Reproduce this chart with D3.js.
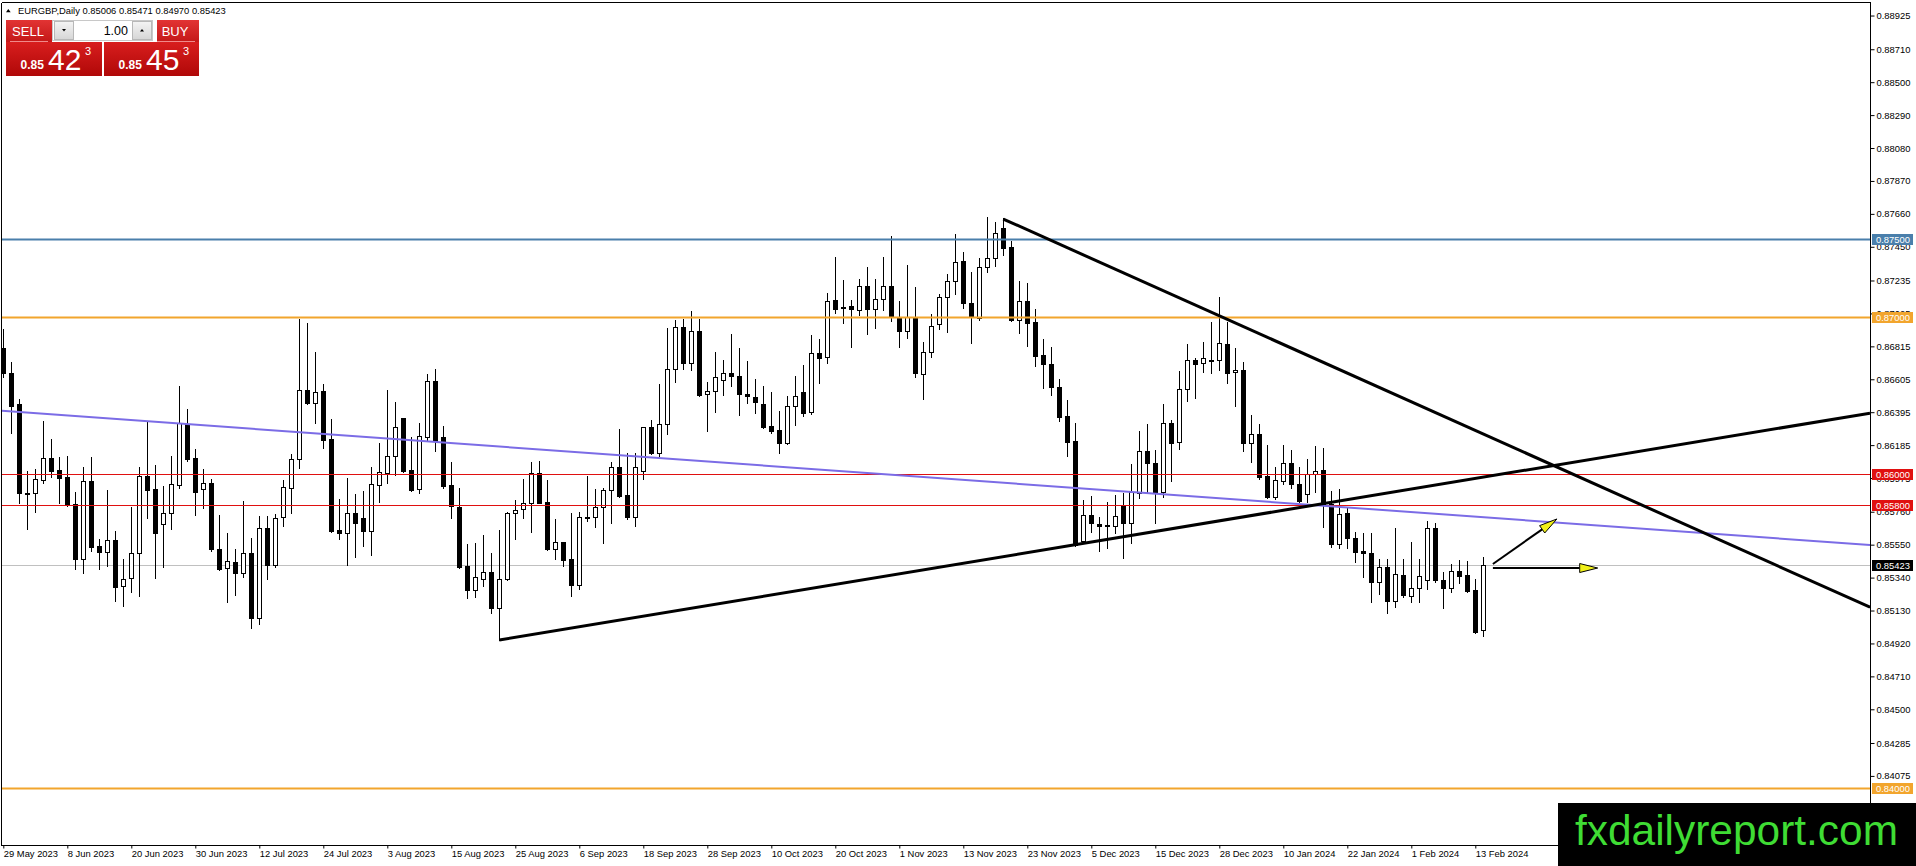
<!DOCTYPE html>
<html>
<head>
<meta charset="utf-8">
<title>EURGBP Daily</title>
<script src="https://d3js.org/d3.v7.min.js"></script>
<style>
  body { margin: 0; background: #fff; overflow: hidden; }
  text { font-family: "Liberation Sans", Arial, sans-serif; }
</style>
</head>
<body>
<div id="chart"></div>
<script>
// daily candles, 29 May 2023 .. 14 Feb 2024
var opens = [
 0.86802,0.86643,0.86445,0.85877,0.85877,0.85960,0.86100,0.86024,0.85981,0.85807,
 0.85456,0.85954,0.85541,0.85501,0.85580,0.85284,0.85335,0.85495,0.85990,0.85905,
 0.85680,0.85750,0.85928,0.86319,0.86103,0.85903,0.85943,0.85522,0.85399,0.85440,
 0.85367,0.85495,0.85080,0.85654,0.85420,0.85728,0.85909,0.86094,0.86536,0.86451,
 0.86530,0.86224,0.85643,0.85622,0.85750,0.85718,0.85639,0.85928,0.86009,0.86115,
 0.86358,0.86026,0.85903,0.86239,0.86594,0.86237,0.85930,0.85792,0.85414,0.85261,
 0.85333,0.85376,0.85146,0.85329,0.85750,0.85775,0.85814,0.86005,0.85822,0.85520,
 0.85565,0.85456,0.85293,0.85724,0.85724,0.85788,0.85899,0.86043,0.85867,0.85724,
 0.86022,0.86298,0.86132,0.86317,0.86668,0.86936,0.86706,0.86913,0.86511,0.86532,
 0.86600,0.86643,0.86626,0.86509,0.86490,0.86447,0.86307,0.86281,0.86200,0.86434,
 0.86521,0.86394,0.86770,0.86745,0.87110,0.87068,0.87072,0.87047,0.87202,0.87051,
 0.87115,0.87202,0.87004,0.86915,0.87004,0.86636,0.86781,0.86955,0.87127,0.87234,
 0.87359,0.87089,0.86993,0.87319,0.87376,0.87567,0.87446,0.86983,0.87104,0.86968,
 0.86760,0.86702,0.86553,0.86370,0.86211,0.85575,0.85739,0.85682,0.85673,0.85671,
 0.85801,0.85690,0.85877,0.86147,0.86073,0.85888,0.86324,0.86202,0.86541,0.86728,
 0.86706,0.86725,0.86728,0.86830,0.86649,0.86664,0.86196,0.86256,0.85988,0.85856,
 0.85958,0.86071,0.85937,0.85873,0.86000,0.86024,0.85809,0.85552,0.85750,0.85590,
 0.85510,0.85495,0.85310,0.85405,0.85193,0.85356,0.85225,0.85271,0.85325,0.85654,
 0.85325,0.85271,0.85382,0.85356,0.85261,0.85006];
var highs = [
 0.86923,0.86713,0.86479,0.86020,0.86030,0.86339,0.86224,0.86109,0.86115,0.85884,
 0.86043,0.86107,0.85586,0.85899,0.85637,0.85461,0.85792,0.86045,0.86334,0.86058,
 0.85924,0.86115,0.86562,0.86415,0.86160,0.86032,0.85969,0.85739,0.85626,0.85522,
 0.85826,0.85590,0.85733,0.85733,0.85743,0.85962,0.86128,0.86989,0.86962,0.86777,
 0.86572,0.86351,0.85841,0.85973,0.85873,0.85892,0.86043,0.86200,0.86536,0.86460,
 0.86360,0.86237,0.86324,0.86638,0.86670,0.86307,0.86075,0.85909,0.85554,0.85558,
 0.85612,0.85495,0.85643,0.85760,0.85835,0.85969,0.86079,0.86084,0.85962,0.85714,
 0.85569,0.85750,0.85756,0.85990,0.85903,0.85909,0.86079,0.86288,0.86132,0.86132,
 0.86303,0.86345,0.86575,0.86930,0.86983,0.86987,0.87040,0.86987,0.86585,0.86781,
 0.86728,0.86894,0.86802,0.86723,0.86606,0.86562,0.86521,0.86402,0.86498,0.86626,
 0.86696,0.86887,0.86862,0.87153,0.87382,0.87238,0.87110,0.87244,0.87319,0.87244,
 0.87382,0.87519,0.87104,0.87334,0.87191,0.86845,0.87019,0.87149,0.87276,0.87531,
 0.87414,0.87291,0.87376,0.87642,0.87610,0.87631,0.87489,0.87232,0.87217,0.87053,
 0.86862,0.86813,0.86604,0.86473,0.86328,0.85835,0.85862,0.85728,0.85824,0.85867,
 0.85877,0.86062,0.86277,0.86319,0.86154,0.86447,0.86345,0.86660,0.86830,0.86743,
 0.86840,0.86968,0.87127,0.86972,0.86802,0.86713,0.86377,0.86320,0.86186,0.86047,
 0.86186,0.86154,0.86043,0.86096,0.86179,0.86164,0.85894,0.85903,0.85792,0.85629,
 0.85622,0.85622,0.85456,0.85456,0.85654,0.85456,0.85565,0.85456,0.85701,0.85686,
 0.85378,0.85427,0.85452,0.85446,0.85331,0.85471];
var lows = [
 0.86621,0.86260,0.85813,0.85650,0.85760,0.85941,0.85979,0.85818,0.85799,0.85393,
 0.85367,0.85512,0.85393,0.85416,0.85193,0.85161,0.85250,0.85225,0.85722,0.85335,
 0.85410,0.85650,0.85913,0.86086,0.85739,0.85786,0.85512,0.85388,0.85186,0.85231,
 0.85346,0.85016,0.85044,0.85329,0.85410,0.85671,0.85750,0.86041,0.86448,0.86324,
 0.86169,0.85633,0.85586,0.85420,0.85473,0.85543,0.85484,0.85824,0.85941,0.85994,
 0.86015,0.85894,0.85877,0.86217,0.86149,0.85909,0.85722,0.85403,0.85212,0.85218,
 0.85288,0.85116,0.84942,0.85325,0.85584,0.85722,0.85633,0.85814,0.85516,0.85456,
 0.85414,0.85223,0.85265,0.85701,0.85665,0.85558,0.85686,0.85856,0.85711,0.85671,
 0.85967,0.86128,0.86117,0.86254,0.86585,0.86668,0.86664,0.86498,0.86277,0.86398,
 0.86504,0.86562,0.86377,0.86451,0.86388,0.86292,0.86260,0.86137,0.86190,0.86313,
 0.86373,0.86381,0.86583,0.86711,0.87025,0.86962,0.86808,0.87015,0.86891,0.86934,
 0.87047,0.86979,0.86808,0.86866,0.86621,0.86477,0.86749,0.86925,0.86904,0.87149,
 0.87061,0.86838,0.86983,0.87291,0.87327,0.87397,0.86979,0.86898,0.86819,0.86692,
 0.86551,0.86504,0.86341,0.86118,0.85543,0.85569,0.85629,0.85512,0.85526,0.85622,
 0.85467,0.85558,0.85845,0.85877,0.85690,0.85856,0.85958,0.86158,0.86466,0.86487,
 0.86653,0.86647,0.86664,0.86583,0.86436,0.86149,0.86079,0.85967,0.85845,0.85841,
 0.85937,0.85909,0.85824,0.85824,0.85886,0.85660,0.85537,0.85527,0.85531,0.85441,
 0.85342,0.85186,0.85235,0.85112,0.85150,0.85214,0.85186,0.85186,0.85265,0.85314,
 0.85144,0.85250,0.85303,0.85250,0.84984,0.84970];
var closes = [
 0.86643,0.86434,0.85877,0.85880,0.85967,0.86100,0.86022,0.85973,0.85805,0.85456,
 0.85954,0.85537,0.85505,0.85580,0.85282,0.85329,0.85495,0.85990,0.85901,0.85626,
 0.85750,0.85937,0.86324,0.86096,0.85888,0.85943,0.85522,0.85393,0.85444,0.85367,
 0.85495,0.85080,0.85654,0.85420,0.85718,0.85916,0.86094,0.86536,0.86451,0.86521,
 0.86217,0.85639,0.85622,0.85750,0.85690,0.85639,0.85937,0.86011,0.86115,0.86300,
 0.86020,0.85899,0.86241,0.86594,0.86213,0.85926,0.85794,0.85410,0.85261,0.85342,
 0.85376,0.85144,0.85331,0.85750,0.85771,0.85814,0.86005,0.85818,0.85520,0.85565,
 0.85452,0.85293,0.85724,0.85727,0.85788,0.85899,0.86043,0.85862,0.85728,0.86043,
 0.86298,0.86132,0.86317,0.86668,0.86936,0.86706,0.86915,0.86504,0.86532,0.86617,
 0.86643,0.86628,0.86509,0.86498,0.86462,0.86298,0.86277,0.86200,0.86434,0.86498,
 0.86392,0.86770,0.86738,0.87106,0.87051,0.87064,0.87051,0.87202,0.87051,0.87115,
 0.87202,0.87004,0.86915,0.87004,0.86647,0.86781,0.86947,0.87127,0.87234,0.87351,
 0.87089,0.87000,0.87319,0.87376,0.87536,0.87440,0.86983,0.87104,0.86962,0.86755,
 0.86700,0.86553,0.86366,0.86207,0.85548,0.85739,0.85686,0.85669,0.85671,0.85733,
 0.85690,0.85884,0.86147,0.86069,0.85888,0.86324,0.86200,0.86541,0.86728,0.86702,
 0.86738,0.86730,0.86834,0.86647,0.86664,0.86196,0.86256,0.85984,0.85852,0.85962,
 0.86069,0.85935,0.85831,0.85998,0.86022,0.85809,0.85552,0.85743,0.85590,0.85505,
 0.85495,0.85310,0.85405,0.85193,0.85361,0.85229,0.85271,0.85350,0.85654,0.85325,
 0.85271,0.85382,0.85352,0.85256,0.84995,0.85423];

// one date label every 8 bars
var dateLabels = ["29 May 2023","8 Jun 2023","20 Jun 2023","30 Jun 2023","12 Jul 2023",
 "24 Jul 2023","3 Aug 2023","15 Aug 2023","25 Aug 2023","6 Sep 2023","18 Sep 2023",
 "28 Sep 2023","10 Oct 2023","20 Oct 2023","1 Nov 2023","13 Nov 2023","23 Nov 2023",
 "5 Dec 2023","15 Dec 2023","28 Dec 2023","10 Jan 2024","22 Jan 2024","1 Feb 2024",
 "13 Feb 2024"];
var priceTicks = [0.88925,0.88710,0.88500,0.88290,0.88080,0.87870,0.87660,0.87450,
 0.87235,0.87025,0.86815,0.86605,0.86395,0.86185,0.85975,0.85760,0.85550,0.85340,
 0.85130,0.84920,0.84710,0.84500,0.84285,0.84075];

// horizontal levels
var levelPrices = [0.87500, 0.87000, 0.86000, 0.85800, 0.84000];
var levelColors = ["#4a7fab", "#f2a52d", "#e01010", "#e01010", "#f2a52d"];
var levelWidths = [2, 2, 1, 1, 2];
var bid = 0.85423, ask = 0.85453;

// trend lines as [bar, price] anchor pairs, extended to the right edge
var supportLine = [[62, 0.84942], [134, 0.85550]];
var resistLine = [[125, 0.87627], [187, 0.86210]];
var channelLine = [[0, 0.86403], [185, 0.85725]];
// arrows [bar, price] -> [bar, price]
var arrowUp = [[186.2, 0.85427], [194.2, 0.85714]];
var arrowFlat = [[186.2, 0.85401], [199.3, 0.85401]];

var W = 1916, H = 866;
var LEFT = 2, RIGHT = 1870, TOP = 3, BOTTOM = 846;
var n = opens.length;

var x = d3.scaleLinear().domain([0, n - 1]).range([3.3, 3.3 + 8 * (n - 1)]);
var y = d3.scaleLinear().domain([0.83628, 0.89005]).range([BOTTOM, TOP]);
var lastBar = x.invert(RIGHT);

var svg = d3.select("#chart").append("svg")
  .attr("width", W).attr("height", H)
  .style("display", "block").style("background", "#fff");

var defs = svg.append("defs");
defs.append("clipPath").attr("id", "plot")
  .append("rect").attr("x", LEFT).attr("y", TOP)
  .attr("width", RIGHT - LEFT).attr("height", BOTTOM - TOP);
var g1 = defs.append("linearGradient").attr("id", "redTop")
  .attr("x1", 0).attr("y1", 0).attr("x2", 0).attr("y2", 1);
g1.append("stop").attr("offset", "0%").attr("stop-color", "#e23434");
g1.append("stop").attr("offset", "100%").attr("stop-color", "#c41818");
var g2 = defs.append("linearGradient").attr("id", "redPrice")
  .attr("x1", 0).attr("y1", 0).attr("x2", 0).attr("y2", 1);
g2.append("stop").attr("offset", "0%").attr("stop-color", "#d81e1e");
g2.append("stop").attr("offset", "100%").attr("stop-color", "#b00808");
var g3 = defs.append("linearGradient").attr("id", "btnGray")
  .attr("x1", 0).attr("y1", 0).attr("x2", 0).attr("y2", 1);
g3.append("stop").attr("offset", "0%").attr("stop-color", "#f4f4f4");
g3.append("stop").attr("offset", "100%").attr("stop-color", "#d6d6d6");

var plot = svg.append("g").attr("clip-path", "url(#plot)");

// last price line sits behind the candles
plot.append("line")
  .attr("x1", LEFT).attr("x2", RIGHT)
  .attr("y1", Math.round(y(bid)) + 0.5).attr("y2", Math.round(y(bid)) + 0.5)
  .attr("stroke", "#c0c0c0").attr("stroke-width", 1);

// candles
var idx = d3.range(n);
var cx = function(i) { return Math.round(x(i)); };
plot.append("g").selectAll("line").data(idx).enter().append("line")
  .attr("x1", function(i) { return cx(i) + 0.5; })
  .attr("x2", function(i) { return cx(i) + 0.5; })
  .attr("y1", function(i) { return Math.round(y(highs[i])); })
  .attr("y2", function(i) { return Math.round(y(lows[i])) + 1; })
  .attr("stroke", "#000").attr("stroke-width", 1);

plot.append("g").selectAll("rect").data(idx).enter().append("rect")
  .each(function(i) {
    var top = Math.round(y(Math.max(opens[i], closes[i])));
    var bot = Math.round(y(Math.min(opens[i], closes[i])));
    var h = Math.max(1, bot - top);
    var r = d3.select(this);
    if (closes[i] >= opens[i] && h > 1) {
      r.attr("x", cx(i) - 1.5).attr("y", top + 0.5)
       .attr("width", 4).attr("height", h)
       .attr("fill", "#fff").attr("stroke", "#000").attr("stroke-width", 1);
    } else {
      r.attr("x", cx(i) - 2).attr("y", top)
       .attr("width", 5).attr("height", h + 1)
       .attr("fill", "#000");
    }
  });

// horizontal levels
plot.append("g").selectAll("line").data(levelPrices).enter().append("line")
  .attr("x1", LEFT).attr("x2", RIGHT)
  .attr("y1", function(d) { return Math.round(y(d)) + 0.5; })
  .attr("y2", function(d) { return Math.round(y(d)) + 0.5; })
  .attr("stroke", function(d, i) { return levelColors[i]; })
  .attr("stroke-width", function(d, i) { return levelWidths[i]; });

// trend lines
function extend(pts, from, to) {
  var slope = (pts[1][1] - pts[0][1]) / (pts[1][0] - pts[0][0]);
  return [[from, pts[0][1] + slope * (from - pts[0][0])],
          [to, pts[0][1] + slope * (to - pts[0][0])]];
}
var lineGen = d3.line().x(function(d) { return x(d[0]); }).y(function(d) { return y(d[1]); });

plot.append("path").datum(extend(channelLine, x.invert(LEFT), lastBar))
  .attr("d", lineGen).attr("fill", "none")
  .attr("stroke", "#7b6ce6").attr("stroke-width", 2);
plot.append("path").datum(extend(supportLine, supportLine[0][0], lastBar))
  .attr("d", lineGen).attr("fill", "none")
  .attr("stroke", "#000").attr("stroke-width", 3);
plot.append("path").datum(extend(resistLine, resistLine[0][0], lastBar))
  .attr("d", lineGen).attr("fill", "none")
  .attr("stroke", "#000").attr("stroke-width", 3);

// arrows
function drawArrow(a) {
  var x1 = x(a[0][0]), y1 = y(a[0][1]), x2 = x(a[1][0]), y2 = y(a[1][1]);
  var len = Math.hypot(x2 - x1, y2 - y1), ux = (x2 - x1) / len, uy = (y2 - y1) / len;
  var headL = 18, headW = 4.5;
  var bx = x2 - ux * headL, by = y2 - uy * headL;
  plot.append("line").attr("x1", x1).attr("y1", y1).attr("x2", bx).attr("y2", by)
    .attr("stroke", "#000").attr("stroke-width", 2);
  plot.append("polygon")
    .attr("points", [[x2, y2], [bx - uy * headW, by + ux * headW], [bx + uy * headW, by - ux * headW]]
      .map(function(p) { return p.join(","); }).join(" "))
    .attr("fill", "#f0f018").attr("stroke", "#000").attr("stroke-width", 1);
}
drawArrow(arrowUp);
drawArrow(arrowFlat);

// frame
svg.append("line").attr("x1", LEFT - 0.5).attr("x2", LEFT - 0.5).attr("y1", TOP).attr("y2", BOTTOM)
  .attr("stroke", "#000");
svg.append("line").attr("x1", LEFT).attr("x2", RIGHT).attr("y1", TOP - 0.5).attr("y2", TOP - 0.5)
  .attr("stroke", "#000");
svg.append("line").attr("x1", RIGHT + 0.5).attr("x2", RIGHT + 0.5).attr("y1", TOP - 1).attr("y2", BOTTOM)
  .attr("stroke", "#000");
svg.append("line").attr("x1", LEFT - 1).attr("x2", RIGHT + 1).attr("y1", BOTTOM - 0.5).attr("y2", BOTTOM - 0.5)
  .attr("stroke", "#000");

// price axis
var yAxis = svg.append("g").attr("transform", "translate(" + (RIGHT + 0.5) + ",0)")
  .call(d3.axisRight(y).tickValues(priceTicks).tickSize(4).tickPadding(2)
    .tickFormat(d3.format(".5f")));
yAxis.select(".domain").remove();
yAxis.selectAll("text").attr("font-size", "9.4px").attr("fill", "#000")
  .attr("font-family", "'Liberation Sans', Arial, sans-serif");

// date axis
var dateIdx = dateLabels.map(function(d, i) { return i * 8; });
var xAxis = svg.append("g").attr("transform", "translate(0," + (BOTTOM - 0.5) + ")")
  .call(d3.axisBottom(x).tickValues(dateIdx).tickSize(3)
    .tickFormat(function(d, i) { return dateLabels[i]; }));
xAxis.select(".domain").remove();
xAxis.selectAll("text").attr("font-size", "9.4px").attr("fill", "#000")
  .attr("text-anchor", "start").attr("x", 0).attr("y", 5)
  .attr("font-family", "'Liberation Sans', Arial, sans-serif");

// level price tags
var tags = svg.append("g");
var tagData = levelPrices.map(function(p, i) { return { p: p, c: levelColors[i] }; })
  .concat([{ p: bid, c: "#000" }]);
tags.selectAll("rect").data(tagData).enter().append("rect")
  .attr("x", RIGHT + 2).attr("y", function(d) { return Math.round(y(d.p)) - 5; })
  .attr("width", 41).attr("height", 11).attr("fill", function(d) { return d.c; });
tags.selectAll("text").data(tagData).enter().append("text")
  .attr("x", RIGHT + 6).attr("y", function(d) { return Math.round(y(d.p)) + 4; })
  .attr("font-size", "9.4px").attr("fill", "#fff")
  .text(function(d) { return d3.format(".5f")(d.p); });

// header line
svg.append("polygon").attr("points", "6,12.3 8.3,9 10.7,12.3").attr("fill", "#000");
svg.append("text").attr("x", 18).attr("y", 13.5).attr("font-size", "9.4px").attr("fill", "#000")
  .text("EURGBP,Daily  " + [opens[n - 1], highs[n - 1], lows[n - 1], closes[n - 1]]
    .map(d3.format(".5f")).join(" "));

// one click trading panel
var panel = svg.append("g");
function priceBox(x0, w, price) {
  var s = d3.format(".5f")(price);
  panel.append("rect").attr("x", x0).attr("y", 42).attr("width", w).attr("height", 34)
    .attr("fill", "url(#redPrice)");
  panel.append("text").attr("x", x0 + 14.5).attr("y", 69).attr("font-size", "12px")
    .attr("font-weight", "bold").attr("fill", "#fff").text(s.slice(0, 4));
  panel.append("text").attr("x", x0 + 42).attr("y", 70).attr("font-size", "30px")
    .attr("fill", "#fff").text(s.slice(4, 6));
  panel.append("text").attr("x", x0 + 79).attr("y", 55).attr("font-size", "11px")
    .attr("fill", "#fff").text(s.slice(6));
}
panel.append("rect").attr("x", 6).attr("y", 20).attr("width", 46).attr("height", 22)
  .attr("fill", "url(#redTop)");
panel.append("line").attr("x1", 10).attr("x2", 48).attr("y1", 41.5).attr("y2", 41.5)
  .attr("stroke", "#f08a8a");
panel.append("text").attr("x", 28).attr("y", 35.5).attr("text-anchor", "middle")
  .attr("font-size", "13px").attr("fill", "#fff").text("SELL");
panel.append("rect").attr("x", 157).attr("y", 20).attr("width", 42).attr("height", 22)
  .attr("fill", "url(#redTop)");
panel.append("line").attr("x1", 157).attr("x2", 195).attr("y1", 41.5).attr("y2", 41.5)
  .attr("stroke", "#f08a8a");
panel.append("text").attr("x", 175).attr("y", 35.5).attr("text-anchor", "middle")
  .attr("font-size", "13px").attr("fill", "#fff").text("BUY");
panel.append("rect").attr("x", 52.5).attr("y", 20.5).attr("width", 100).attr("height", 20)
  .attr("fill", "#fff").attr("stroke", "#c8c8c8");
panel.append("rect").attr("x", 54.5).attr("y", 21.5).attr("width", 19).attr("height", 18)
  .attr("fill", "url(#btnGray)").attr("stroke", "#b8b8b8");
panel.append("rect").attr("x", 132.5).attr("y", 21.5).attr("width", 19).attr("height", 18)
  .attr("fill", "url(#btnGray)").attr("stroke", "#b8b8b8");
panel.append("polygon").attr("points", "62,29 66,29 64,31.5").attr("fill", "#000");
panel.append("polygon").attr("points", "140,31.5 144,31.5 142,29").attr("fill", "#000");
panel.append("text").attr("x", 128).attr("y", 34.5).attr("text-anchor", "end")
  .attr("font-size", "12.5px").attr("fill", "#000").text("1.00");
priceBox(6, 96, bid);
priceBox(104, 95, ask);

// watermark
svg.append("rect").attr("x", 1558).attr("y", 803).attr("width", W - 1558).attr("height", H - 803)
  .attr("fill", "#000");
svg.append("text").attr("x", 1575).attr("y", 845).attr("font-size", "43px")
  .attr("fill", "#3fdc34").attr("textLength", 323).attr("lengthAdjust", "spacingAndGlyphs")
  .text("fxdailyreport.com");
</script>
</body>
</html>
